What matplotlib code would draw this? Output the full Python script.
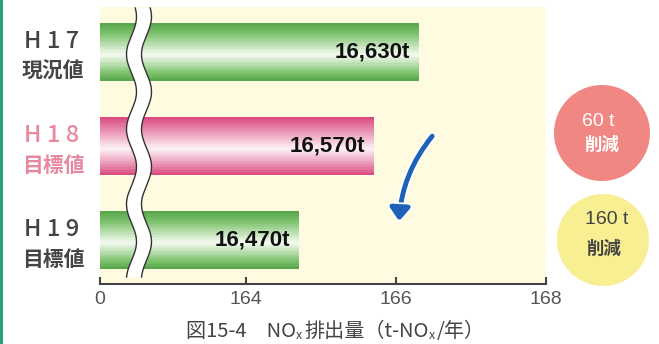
import numpy as np
import matplotlib
matplotlib.use("Agg")
import matplotlib.pyplot as plt
from matplotlib.colors import to_rgb
from matplotlib.patches import Ellipse, Rectangle, FancyArrowPatch, Polygon
import matplotlib.patheffects as pe

plt.rcParams['font.family'] = ['Noto Sans CJK JP', 'DejaVu Sans']

# データ (単位: t)
years = ["H 1 7", "H 1 8", "H 1 9"]
kinds = ["現況値", "目標値", "目標値"]
values_t = [16630, 16570, 16470]
tick_vals = [0, 164, 166, 168]
tick_labels = ["0", "164", "166", "168"]
cuts = [("60 t", "削減"), ("160 t", "削減")]

values = [v / 100 for v in values_t]

W, H = 659, 344
fig = plt.figure(figsize=(W / 100, H / 100), dpi=100)


def fx(px):
    return px / W


def fy(py):
    return 1 - py / H


# 省略軸 (0〜164 を詰める)
GAP = 1.95


def fwd(v):
    v = np.asarray(v, dtype=float)
    return np.where(v < 164, v * GAP / 164, v - 164 + GAP)


def inv(u):
    u = np.asarray(u, dtype=float)
    return np.where(u < GAP, u * 164 / GAP, u + 164 - GAP)


ax = fig.add_axes([fx(100), fy(284), fx(546) - fx(100), fy(7) - fy(284)])
ax.set_facecolor('#fffbe1')
ax.set_xscale('function', functions=(fwd, inv))
ax.set_xlim(0, 168)
ax.set_ylim(2.468, -0.479)

green = [to_rgb('#55a44a'), to_rgb('#7cc26c'), to_rgb('#f6fbf2')]
pink = [to_rgb('#d9477f'), to_rgb('#e57fa7'), to_rgb('#fdf3f6')]
bar_cols = [green, pink, green]
txt_cols = ['#444444', '#e8889f', '#444444']

nodes = [0, 0.18, 0.55, 0.86, 1.0]
h = 0.617
n = 36
for i, v in enumerate(values):
    dark, mid, light = bar_cols[i]
    cs = [dark, mid, light, mid, dark]
    for k in range(n):
        t = (k + 0.5) / n
        c = [np.interp(t, nodes, [cc[j] for cc in cs]) for j in range(3)]
        ax.barh(i - h / 2 + k * h / n, v, height=h / n, align='edge',
                color=c, lw=0, antialiased=False, zorder=2)
    ax.annotate(f"{values_t[i]:,}t", (v, i), xytext=(-6, 0),
                textcoords='offset points', ha='right', va='center',
                fontsize=16, fontweight='bold', color='#111111',
                family=['Liberation Sans', 'DejaVu Sans'], zorder=5)

ax.set_xticks(tick_vals)
ax.set_xticklabels(tick_labels, fontsize=14, color='#555555',
                   family=['Liberation Sans', 'DejaVu Sans'])
ax.tick_params(axis='x', direction='in', length=5, width=1.5,
               color='#444444', pad=5)
ax.set_yticks([])
for s in ['top', 'right', 'left']:
    ax.spines[s].set_visible(False)
ax.spines['bottom'].set_color('#444444')
ax.spines['bottom'].set_linewidth(1.5)

# 左の区分ラベル
for i in range(3):
    cy = 52 + 94 * i
    fig.text(fx(52), fy(cy - 11), years[i], ha='center', va='center',
             fontsize=17, fontweight='medium', color=txt_cols[i])
    fig.text(fx(53), fy(cy + 19), kinds[i], ha='center', va='center',
             fontsize=15, fontweight='bold', color=txt_cols[i])

# 波線 (省略記号)
yy = np.linspace(8, 277, 200)
cx = 139 + 5 * np.sin(2 * np.pi * (yy - 73) / 75)
left = np.column_stack([fx(cx - 7.5), fy(yy)])
right = np.column_stack([fx(cx + 7.5), fy(yy)])
fig.patches.append(Polygon(np.vstack([left, right[::-1]]), closed=True,
                           transform=fig.transFigure, fc='white', ec='none',
                           zorder=6))
for xy in (left, right):
    fig.lines.append(plt.Line2D(xy[:, 0], xy[:, 1], transform=fig.transFigure,
                                color='#333333', lw=1.0, zorder=7))

# 矢印
arr = FancyArrowPatch((fx(434), fy(134)), (fx(399), fy(224)),
                      transform=fig.transFigure,
                      connectionstyle='arc3,rad=0.17',
                      arrowstyle='-|>,head_width=0.42,head_length=0.55',
                      mutation_scale=14, lw=3.5, color='#1d62b7', zorder=8)
arr.set_path_effects([pe.withStroke(linewidth=6, foreground='white')])
fig.patches.append(arr)

# 削減量の丸
circ = [((602, 133), 48, '#f08783', 'white', (598, 121), (602, 145)),
        ((603, 240), 46, '#f8ee92', '#444444', (607, 220), (604, 249))]
for (c, r, fc, tc, p1, p2), (a, b) in zip(circ, cuts):
    fig.patches.append(Ellipse((fx(c[0]), fy(c[1])), 2 * r / W, 2 * r / H,
                               transform=fig.transFigure, fc=fc, ec='none'))
    fig.text(fx(p1[0]), fy(p1[1]), a, ha='center', va='center',
             fontsize=14, color=tc, family=['Liberation Sans', 'DejaVu Sans'])
    fig.text(fx(p2[0]), fy(p2[1]), b, ha='center', va='center',
             fontsize=12.5, fontweight='bold', color=tc)

# 左端の線
fig.patches.append(Rectangle((0, 0), fx(2.5), 1, transform=fig.transFigure,
                             fc='#2a9e7e', ec='none'))

# 図タイトル
cap = dict(fontsize=14.5, color='#444444', va='bottom')
t1 = fig.text(fx(186), fy(342), "図15-4　NO", **cap)
t2 = ax.annotate("x", xy=(1, 0), xycoords=t1, ha='left', va='bottom',
                 fontsize=9, color='#444444')
t3 = ax.annotate("排出量（t-NO", xy=(1, 0), xycoords=t1, xytext=(6, 0),
                 textcoords='offset points', ha='left', **cap)
t4 = ax.annotate("x", xy=(1, 0), xycoords=t3, ha='left', va='bottom',
                 fontsize=9, color='#444444')
t5 = ax.annotate("/年）", xy=(1, 0), xycoords=t3, xytext=(6, 0),
                 textcoords='offset points', ha='left', **cap)

fig.savefig('out.png', dpi=100)
